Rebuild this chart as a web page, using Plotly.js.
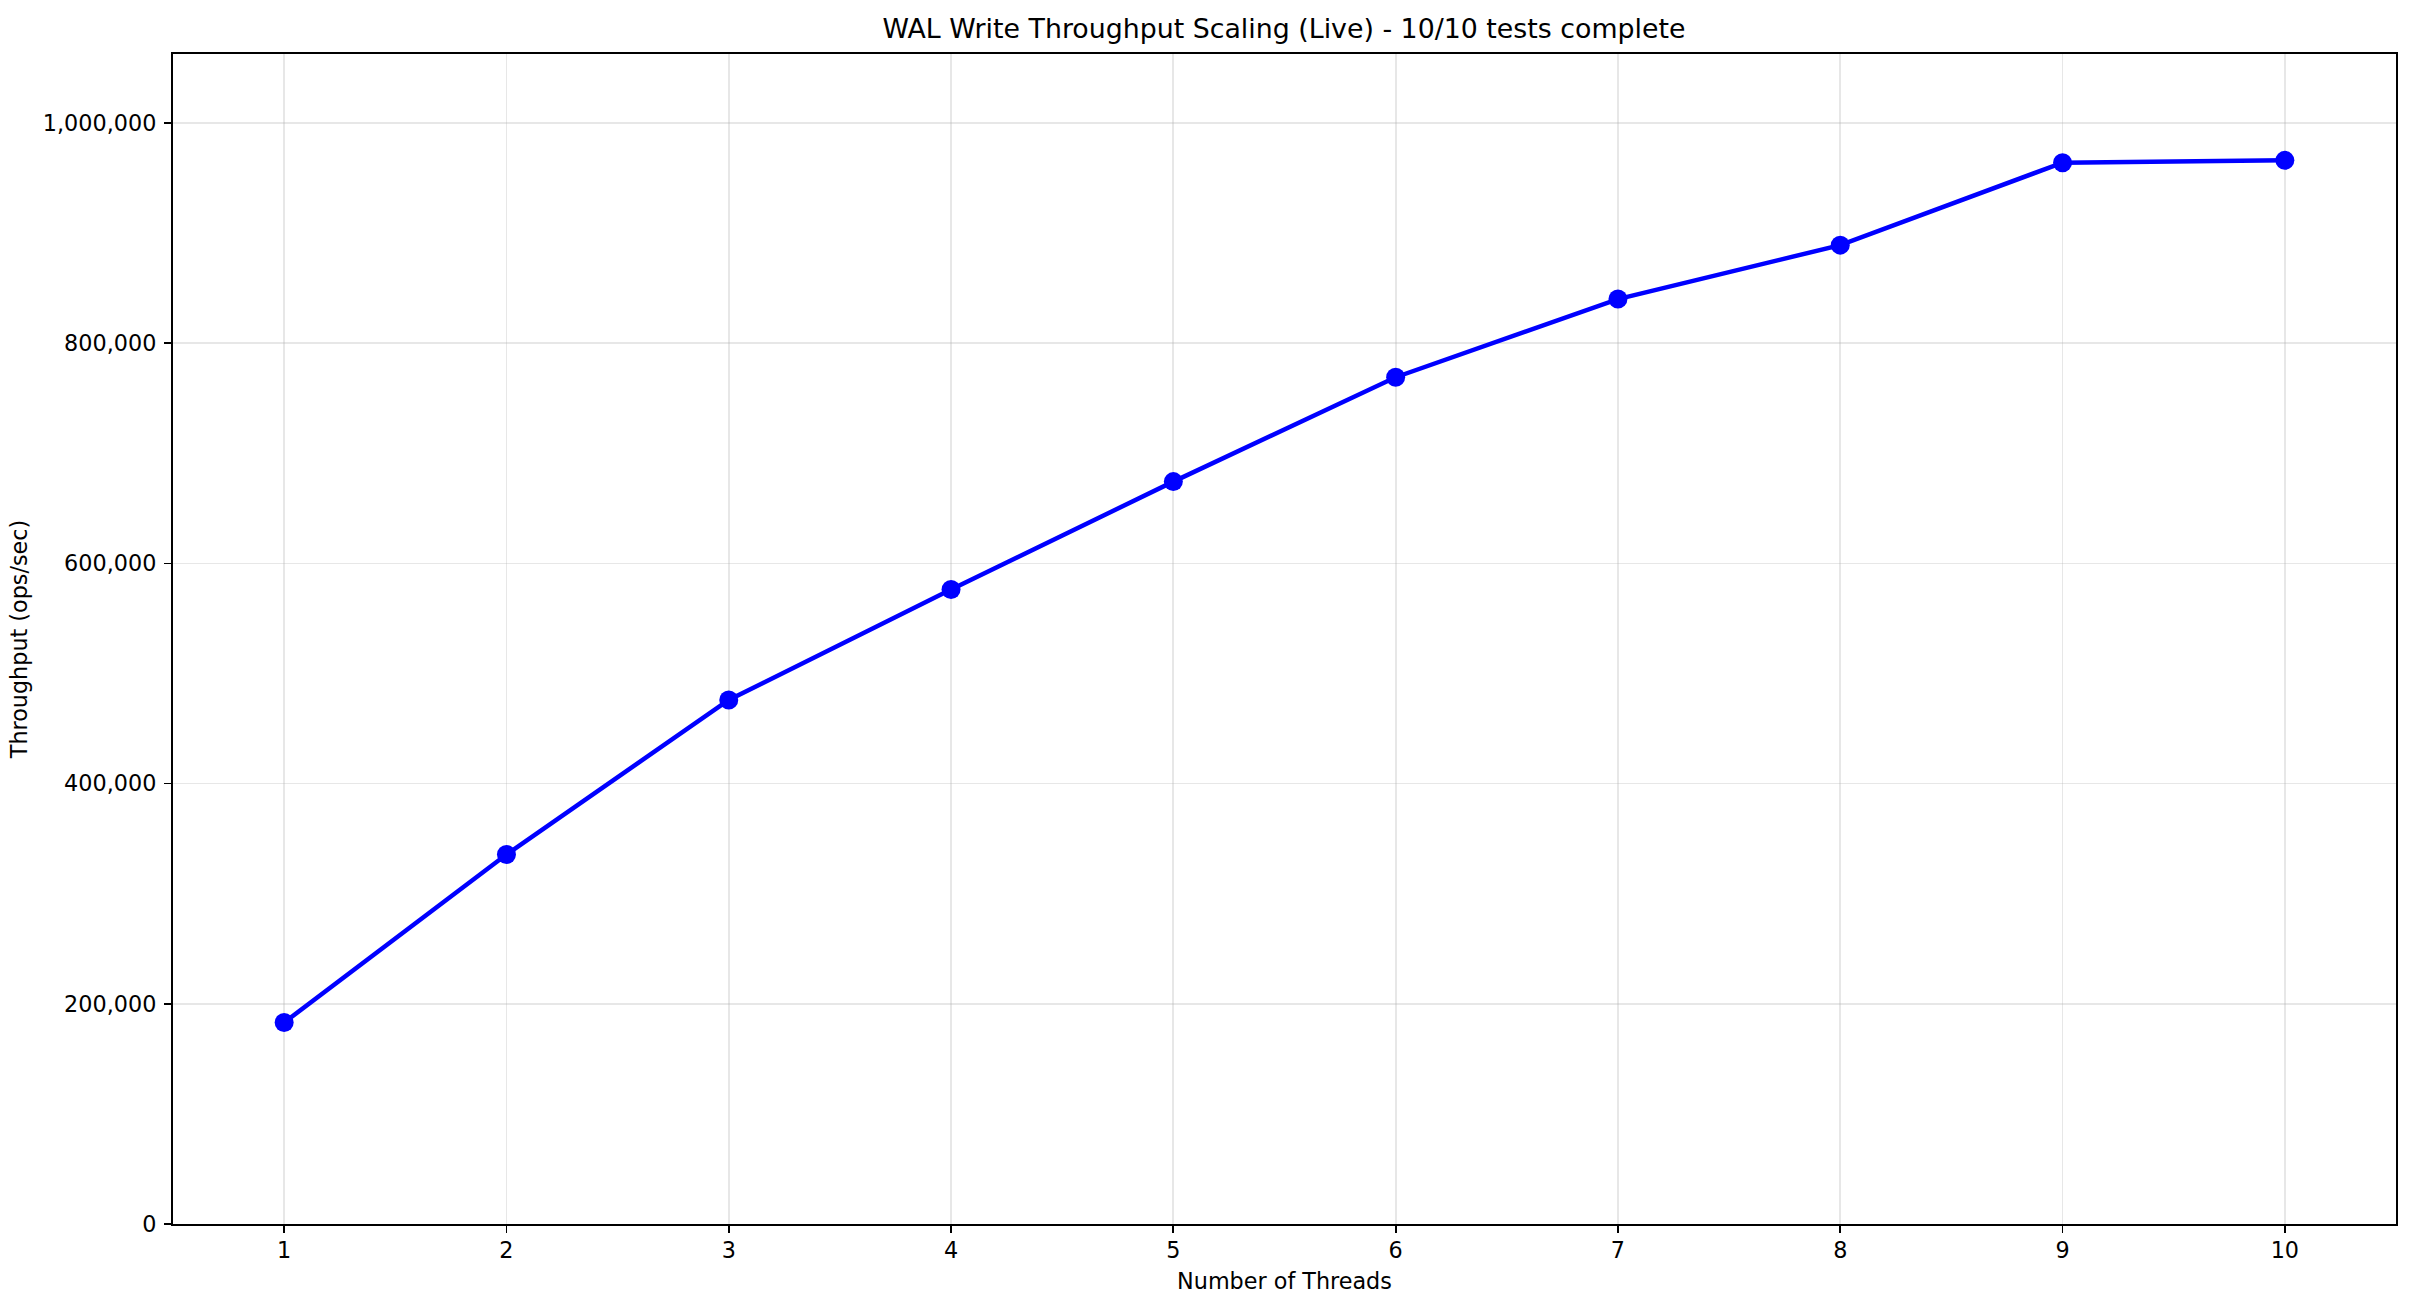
<!DOCTYPE html>
<html>
<head>
<meta charset="utf-8">
<script src="https://cdn.plot.ly/plotly-3.0.1.min.js"></script>
<style>html,body{margin:0;padding:0;background:#fff;}#chart{width:2418px;height:1316px;}</style>
</head>
<body>
<div id="chart"></div>
<script>
const threads = [1, 2, 3, 4, 5, 6, 7, 8, 9, 10];
const throughput = [183000, 335600, 476000, 576300, 674300, 769100, 840100, 889100, 964000, 966100];
const titleText = "WAL Write Throughput Scaling (Live) - 10/10 tests complete";
const xLabel = "Number of Threads";
const yLabel = "Throughput (ops/sec)";

const font = "DejaVu Sans, sans-serif";
const trace = {
  x: threads, y: throughput, type: "scatter", mode: "lines+markers",
  line: {color: "#0000ff", width: 4.5},
  marker: {color: "#0000ff", size: 19},
  hoverinfo: "x+y"
};
const axisCommon = {
  showline: true, linecolor: "#000", linewidth: 1.7, mirror: true,
  ticks: "outside", ticklen: 7.5, tickwidth: 1.7, tickcolor: "#000",
  showgrid: true, gridcolor: "rgba(176,176,176,0.3)", gridwidth: 1.7,
  zeroline: false, tickfont: {family: font, size: 22.3, color: "#000"}
};
const layout = {
  width: 2418, height: 1316,
  paper_bgcolor: "#fff", plot_bgcolor: "#fff",
  margin: {l: 173, r: 22, t: 54, b: 92},
  showlegend: false,
  title: {text: titleText, font: {family: font, size: 26.8, color: "#000"}, x: 0.531, xanchor: "center", y: 0.978, yanchor: "middle"},
  xaxis: Object.assign({}, axisCommon, {
    range: [0.5, 10.5], tickmode: "array", tickvals: threads, ticktext: threads.map(String),
    ticklabelstandoff: -2,
    title: {text: xLabel, font: {family: font, size: 22.3, color: "#000"}, standoff: 11}
  }),
  yaxis: Object.assign({}, axisCommon, {
    range: [0, 1062700], tickmode: "linear", tick0: 0, dtick: 200000, tickformat: ",d",
    ticklabelstandoff: 3,
    title: {text: yLabel, font: {family: font, size: 22.3, color: "#000"}, standoff: 9}
  })
};
Plotly.newPlot("chart", [trace], layout, {displayModeBar: false, staticPlot: true});
</script>
</body>
</html>
